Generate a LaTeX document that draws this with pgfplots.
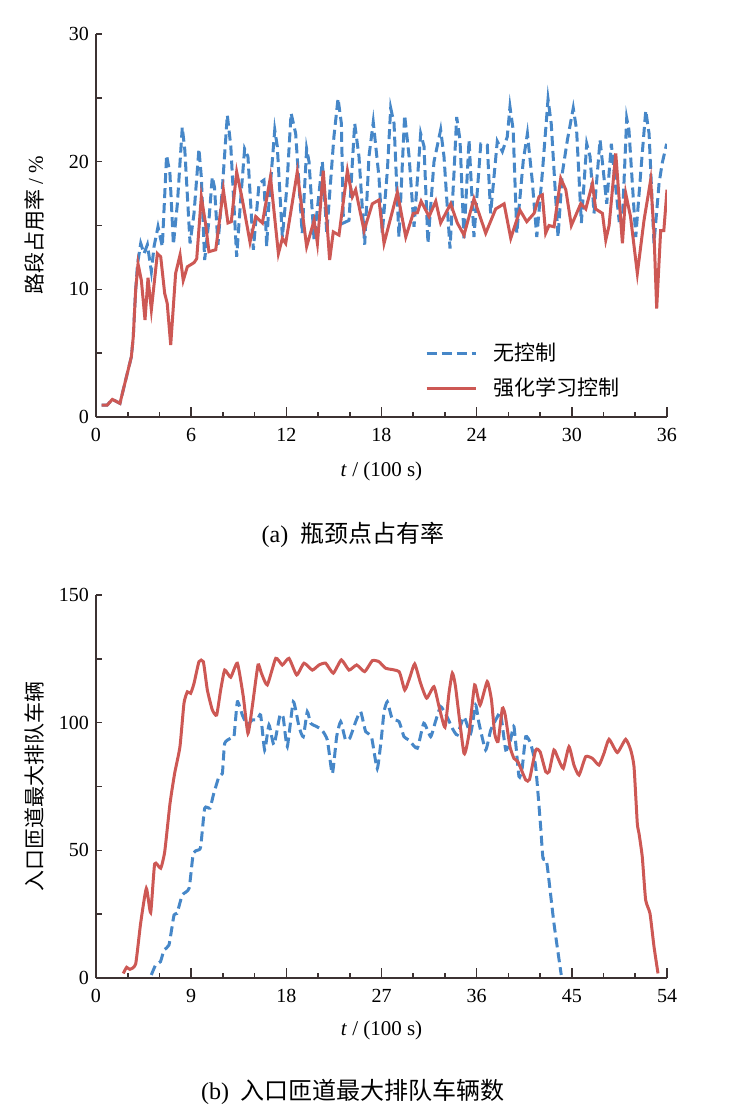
\documentclass[border=0pt]{standalone}
\usepackage{pgfplots}
\pgfplotsset{compat=1.18}
\usepackage{fontspec}
\setmainfont{Liberation Serif}
\newfontfamily\cjk{Noto Sans CJK SC}
\definecolor{axcol}{RGB}{60,50,50}
\definecolor{cblue}{RGB}{70,135,200}
\definecolor{cred}{RGB}{205,88,84}
\pgfplotsset{
  common/.style={
    scale only axis, width=285.5pt, height=191.5pt,
    axis x line*=bottom, axis y line*=left,
    axis line style={color=axcol, line width=0.9pt},
    tick style={color=axcol, line width=0.8pt},
    tick align=inside,
    major tick length=5pt, minor tick length=2.75pt,
    major y tick style={draw=none},
    ticklabel style={font=\fontsize{10}{12}\selectfont, text=black},
    xticklabel style={yshift=-2pt},
    /pgf/number format/assume math mode=true,
    label style={font=\fontsize{10.5}{12}\selectfont},
    ylabel style={at={(axis description cs:-0.107,0.5)}, anchor=center, rotate=0},
    blueline/.style={color=cblue, line width=1.5pt, dash pattern=on 5pt off 2.5pt},
    redline/.style={color=cred, line width=1.5pt},
  }
}
\begin{document}
\begin{tikzpicture}
\useasboundingbox (0,0) rectangle (369.5pt,-557.5pt);
% ---------------- (a)
\begin{axis}[common,
  at={(48pt,-208.5pt)}, anchor=south west,
  xmin=0, xmax=36, ymin=0, ymax=30,
  xtick={0,6,...,36}, minor x tick num=2,
  ytick={0,10,20,30}, minor ytick={0,5,...,30},
  xlabel={\textit{t} / (100 s)},
  xlabel style={at={(axis description cs:0.5,-0.141)}, anchor=center},
  ylabel={{\cjk 路段占用率} / \%},
  legend style={draw=none, fill=none, at={(rel axis cs:0.565,0.215)}, anchor=north west,
    font=\cjk\fontsize{10.5}{12}\selectfont, row sep=3pt,
    /tikz/every odd column/.append style={column sep=6pt}},
  legend cell align=left,
  legend image code/.code={\draw[#1] (0pt,0pt) -- (24.5pt,0pt);},
]
\addplot[blueline] coordinates {
(0.35,0.94)(0.71,0.94)(1.03,1.38)(1.51,1.07)(1.87,2.9)(2.23,4.72)(2.35,6.29)(2.5,9.94)(2.62,12.0)(2.82,13.6)(3.03,12.8)(3.24,13.5)(3.49,11.4)(3.66,13.35)(3.91,14.9)(4.18,13.35)(4.45,20.5)(4.66,19.1)(4.88,13.5)(5.13,16.7)(5.44,22.7)(5.6,20.9)(5.93,13.6)(6.18,15.95)(6.49,21.0)(6.64,18.8)(6.85,12.3)(7.12,15.4)(7.33,18.8)(7.47,18.0)(7.69,13.5)(7.96,17.8)(8.28,23.65)(8.5,21.2)(8.87,12.55)(9.12,17.0)(9.37,21.0)(9.58,20.4)(9.92,13.1)(10.28,18.3)(10.59,18.56)(10.76,13.35)(10.9,16.7)(11.27,22.5)(11.43,21.2)(11.75,14.1)(12.02,17.8)(12.3,23.8)(12.59,22.2)(13.0,14.4)(13.28,21.0)(13.43,20.0)(13.75,13.86)(14.27,20.0)(14.55,14.4)(15.0,21.95)(15.26,24.95)(15.47,23.0)(15.6,15.2)(15.95,15.4)(16.31,23.0)(16.58,20.4)(16.94,13.5)(17.21,20.4)(17.48,23.1)(17.84,18.8)(18.05,14.4)(18.37,19.3)(18.58,24.2)(18.79,23.0)(19.1,14.1)(19.46,23.65)(19.74,20.4)(20.05,14.9)(20.47,22.2)(20.68,21.2)(20.93,13.6)(21.31,20.0)(21.73,22.5)(21.94,20.4)(22.32,13.2)(22.57,19.1)(22.74,23.5)(22.95,21.7)(23.2,14.0)(23.52,21.7)(23.83,14.1)(24.26,21.4)(24.46,21.4)(24.67,21.3)(24.88,15.95)(25.3,21.6)(25.62,20.8)(25.93,21.95)(26.1,24.3)(26.3,22.5)(26.53,14.4)(26.94,20.1)(27.2,22.2)(27.5,18.56)(27.79,14.1)(28.14,19.1)(28.5,24.9)(28.7,23.0)(29.13,14.1)(29.4,19.1)(29.72,21.7)(30.09,24.2)(30.3,22.5)(30.6,15.2)(30.94,21.4)(31.15,20.4)(31.4,15.95)(31.78,21.7)(32.0,19.1)(32.2,16.7)(32.49,21.4)(32.7,18.8)(32.98,15.4)(33.19,15.5)(33.46,23.4)(33.6,22.5)(34.03,14.1)(34.34,19.1)(34.66,24.0)(34.87,22.2)(35.18,13.6)(35.5,18.3)(35.7,19.9)(35.98,21.4)
};
\addlegendentry{无控制}
\addplot[redline] coordinates {
(0.35,0.94)(0.71,0.94)(1.03,1.38)(1.51,1.07)(1.87,2.9)(2.23,4.72)(2.35,6.29)(2.5,9.94)(2.65,12.0)(2.86,10.7)(3.09,7.6)(3.28,10.9)(3.49,8.4)(3.87,12.8)(4.08,12.55)(4.33,9.69)(4.49,8.9)(4.71,5.64)(5.02,11.25)(5.3,12.7)(5.5,10.7)(5.76,11.77)(6.18,12.09)(6.35,12.4)(6.64,17.25)(6.9,15.2)(7.12,12.95)(7.55,13.1)(8.03,17.8)(8.32,15.2)(8.53,15.3)(8.87,19.2)(9.23,17.0)(9.71,13.7)(10.07,15.7)(10.49,15.2)(11.0,18.8)(11.5,12.8)(11.75,14.0)(11.96,13.6)(12.69,19.2)(13.28,13.35)(13.75,15.4)(13.96,13.6)(14.33,19.3)(14.73,12.3)(14.96,14.5)(15.32,14.25)(15.85,19.3)(16.16,17.25)(16.37,17.8)(16.9,14.6)(17.42,16.7)(17.84,17.0)(18.16,13.6)(19.0,17.6)(19.53,14.1)(20.0,15.95)(20.26,16.0)(20.5,16.9)(21.0,15.7)(21.42,16.9)(21.73,15.2)(22.36,16.7)(22.78,15.2)(23.2,14.25)(23.83,17.1)(24.57,14.4)(25.2,16.3)(25.73,16.7)(26.15,14.0)(26.73,16.2)(27.16,15.3)(27.62,15.95)(27.93,17.25)(28.14,17.4)(28.35,14.4)(28.56,15.0)(28.88,14.9)(29.3,18.7)(29.62,17.8)(29.97,15.0)(30.56,16.7)(30.88,16.3)(31.3,18.3)(31.5,16.3)(31.93,15.95)(32.14,13.86)(32.35,15.0)(32.77,20.65)(33.19,13.6)(33.4,17.5)(33.7,15.7)(34.13,11.25)(34.55,15.4)(34.97,18.56)(35.18,14.4)(35.35,8.5)(35.6,14.6)(35.8,14.6)(36.0,17.8)
};
\addlegendentry{强化学习控制}
\end{axis}
% ---------------- (b)
\begin{axis}[common,
  at={(48pt,-489pt)}, anchor=south west,
  xmin=0, xmax=54, ymin=0, ymax=150,
  xtick={0,9,...,54}, minor x tick num=2,
  ytick={0,50,100,150}, minor ytick={0,25,...,150},
  xlabel={\textit{t} / (100 s)},
  xlabel style={at={(axis description cs:0.5,-0.136)}, anchor=center},
  ylabel={\cjk 入口匝道最大排队车辆},
]
\addplot[blueline, smooth, tension=0.3] coordinates {
(5.23,1.2)(5.64,5.1)(6.1,6.4)(6.43,11.0)(6.9,12.9)(7.38,24.7)(7.66,25.3)(8.16,32.5)(8.8,35.1)(9.2,48.8)(9.65,50.1)(9.9,51.4)(10.28,66.5)(10.78,66.5)(11.1,71.7)(11.63,78.9)(11.95,80.1)(12.17,91.9)(12.74,93.9)(13.05,94.5)(13.37,108.2)(13.84,103.0)(14.31,99.1)(14.78,101.1)(15.26,101.1)(15.57,103.0)(15.95,89.3)(16.36,99.1)(16.83,91.3)(17.4,103.0)(17.7,102.2)(18.09,90.6)(18.66,108.2)(19.2,98.4)(19.6,94.5)(19.98,104.3)(20.3,99.8)(20.9,98.4)(21.37,97.1)(21.88,93.2)(22.35,80)(22.76,94.5)(23.14,100.4)(23.6,93.2)(24.0,93.9)(24.56,100.4)(25.03,104.3)(25.5,96.5)(26.05,94.5)(26.6,82)(27.0,94.5)(27.24,104.3)(27.55,108.2)(28.0,101.7)(28.66,100.4)(29.13,94.5)(29.6,93.2)(30.39,90.0)(31.0,99.8)(31.65,94.5)(32.1,100.4)(32.6,106.3)(33.2,102.3)(33.7,97.8)(34.17,95.2)(34.8,102.3)(35.43,95.8)(35.9,106.9)(36.22,99.8)(36.85,89.3)(37.33,97.1)(37.96,102.3)(38.27,103.7)(38.75,89.3)(39.2,93.2)(39.53,98.4)(40.0,78.9)(40.3,82.1)(40.64,94.5)(41.1,91.9)(41.58,82.8)(42.05,59.3)(42.27,46.9)(42.62,45.6)(43.31,21.4)(44.0,1.2)
};
\addplot[redline, smooth, tension=0.3] coordinates {
(2.58,1.8)(2.9,4.2)(3.2,3.4)(3.75,5.5)(4.22,21.4)(4.76,35.1)(5.17,25.6)(5.55,44.7)(6.12,43.0)(6.5,49.5)(7.0,68.4)(7.44,80.2)(7.94,90.6)(8.32,107.6)(8.64,112.1)(8.95,111.5)(9.27,115.4)(9.74,123.9)(10.15,123.9)(10.53,112.8)(11.0,105.0)(11.41,103.0)(11.79,112.8)(12.17,120.6)(12.74,117.8)(13.37,123.3)(13.93,110.2)(14.37,95.8)(14.78,106.3)(15.32,122.6)(15.64,119.4)(16.2,114.8)(17.0,125.2)(17.62,122.6)(18.25,125.2)(18.98,118.7)(19.67,123.3)(20.46,120.6)(21.09,122.6)(21.72,123.3)(22.44,119.4)(23.2,124.6)(23.93,120.6)(24.65,122.6)(25.41,120.0)(26.13,124.3)(26.76,123.9)(27.4,121.3)(28.66,120.0)(29.2,112.8)(29.7,118.0)(30.14,123.0)(30.7,115.4)(31.27,109.6)(31.96,114.1)(32.44,106.3)(33.0,98.2)(33.38,111.5)(33.7,119.4)(34.0,114.1)(34.8,88.0)(35.28,95.8)(35.81,114.8)(36.32,106.9)(37.0,116.1)(37.4,108.9)(37.7,95.8)(38.02,92.6)(38.43,105.6)(38.7,103.0)(39.15,90.6)(39.53,86.0)(39.9,84.7)(40.64,77.6)(41.0,77.8)(41.58,89.3)(42.0,88.6)(42.53,80.8)(42.85,80.8)(43.31,89.3)(43.7,86.0)(44.19,82.1)(44.73,90.6)(45.2,83.4)(45.68,79.5)(46.31,86.7)(46.95,86.0)(47.57,83.4)(48.04,88.0)(48.52,93.5)(49.3,88.3)(50.09,93.5)(50.57,89.3)(50.88,82.8)(51.19,60.6)(51.35,56.7)(51.66,47.5)(51.98,30.6)(52.39,25.3)(52.77,12.3)(53.15,1.8)
};
\end{axis}
\node[anchor=center] at (176.5pt,-267.5pt) {\fontsize{12}{14}\selectfont (a)\hspace{0.5em}{\cjk 瓶颈点占有率}};
\node[anchor=center] at (176.5pt,-546pt) {\fontsize{12}{14}\selectfont (b)\hspace{0.5em}{\cjk 入口匝道最大排队车辆数}};
\end{tikzpicture}
\end{document}
